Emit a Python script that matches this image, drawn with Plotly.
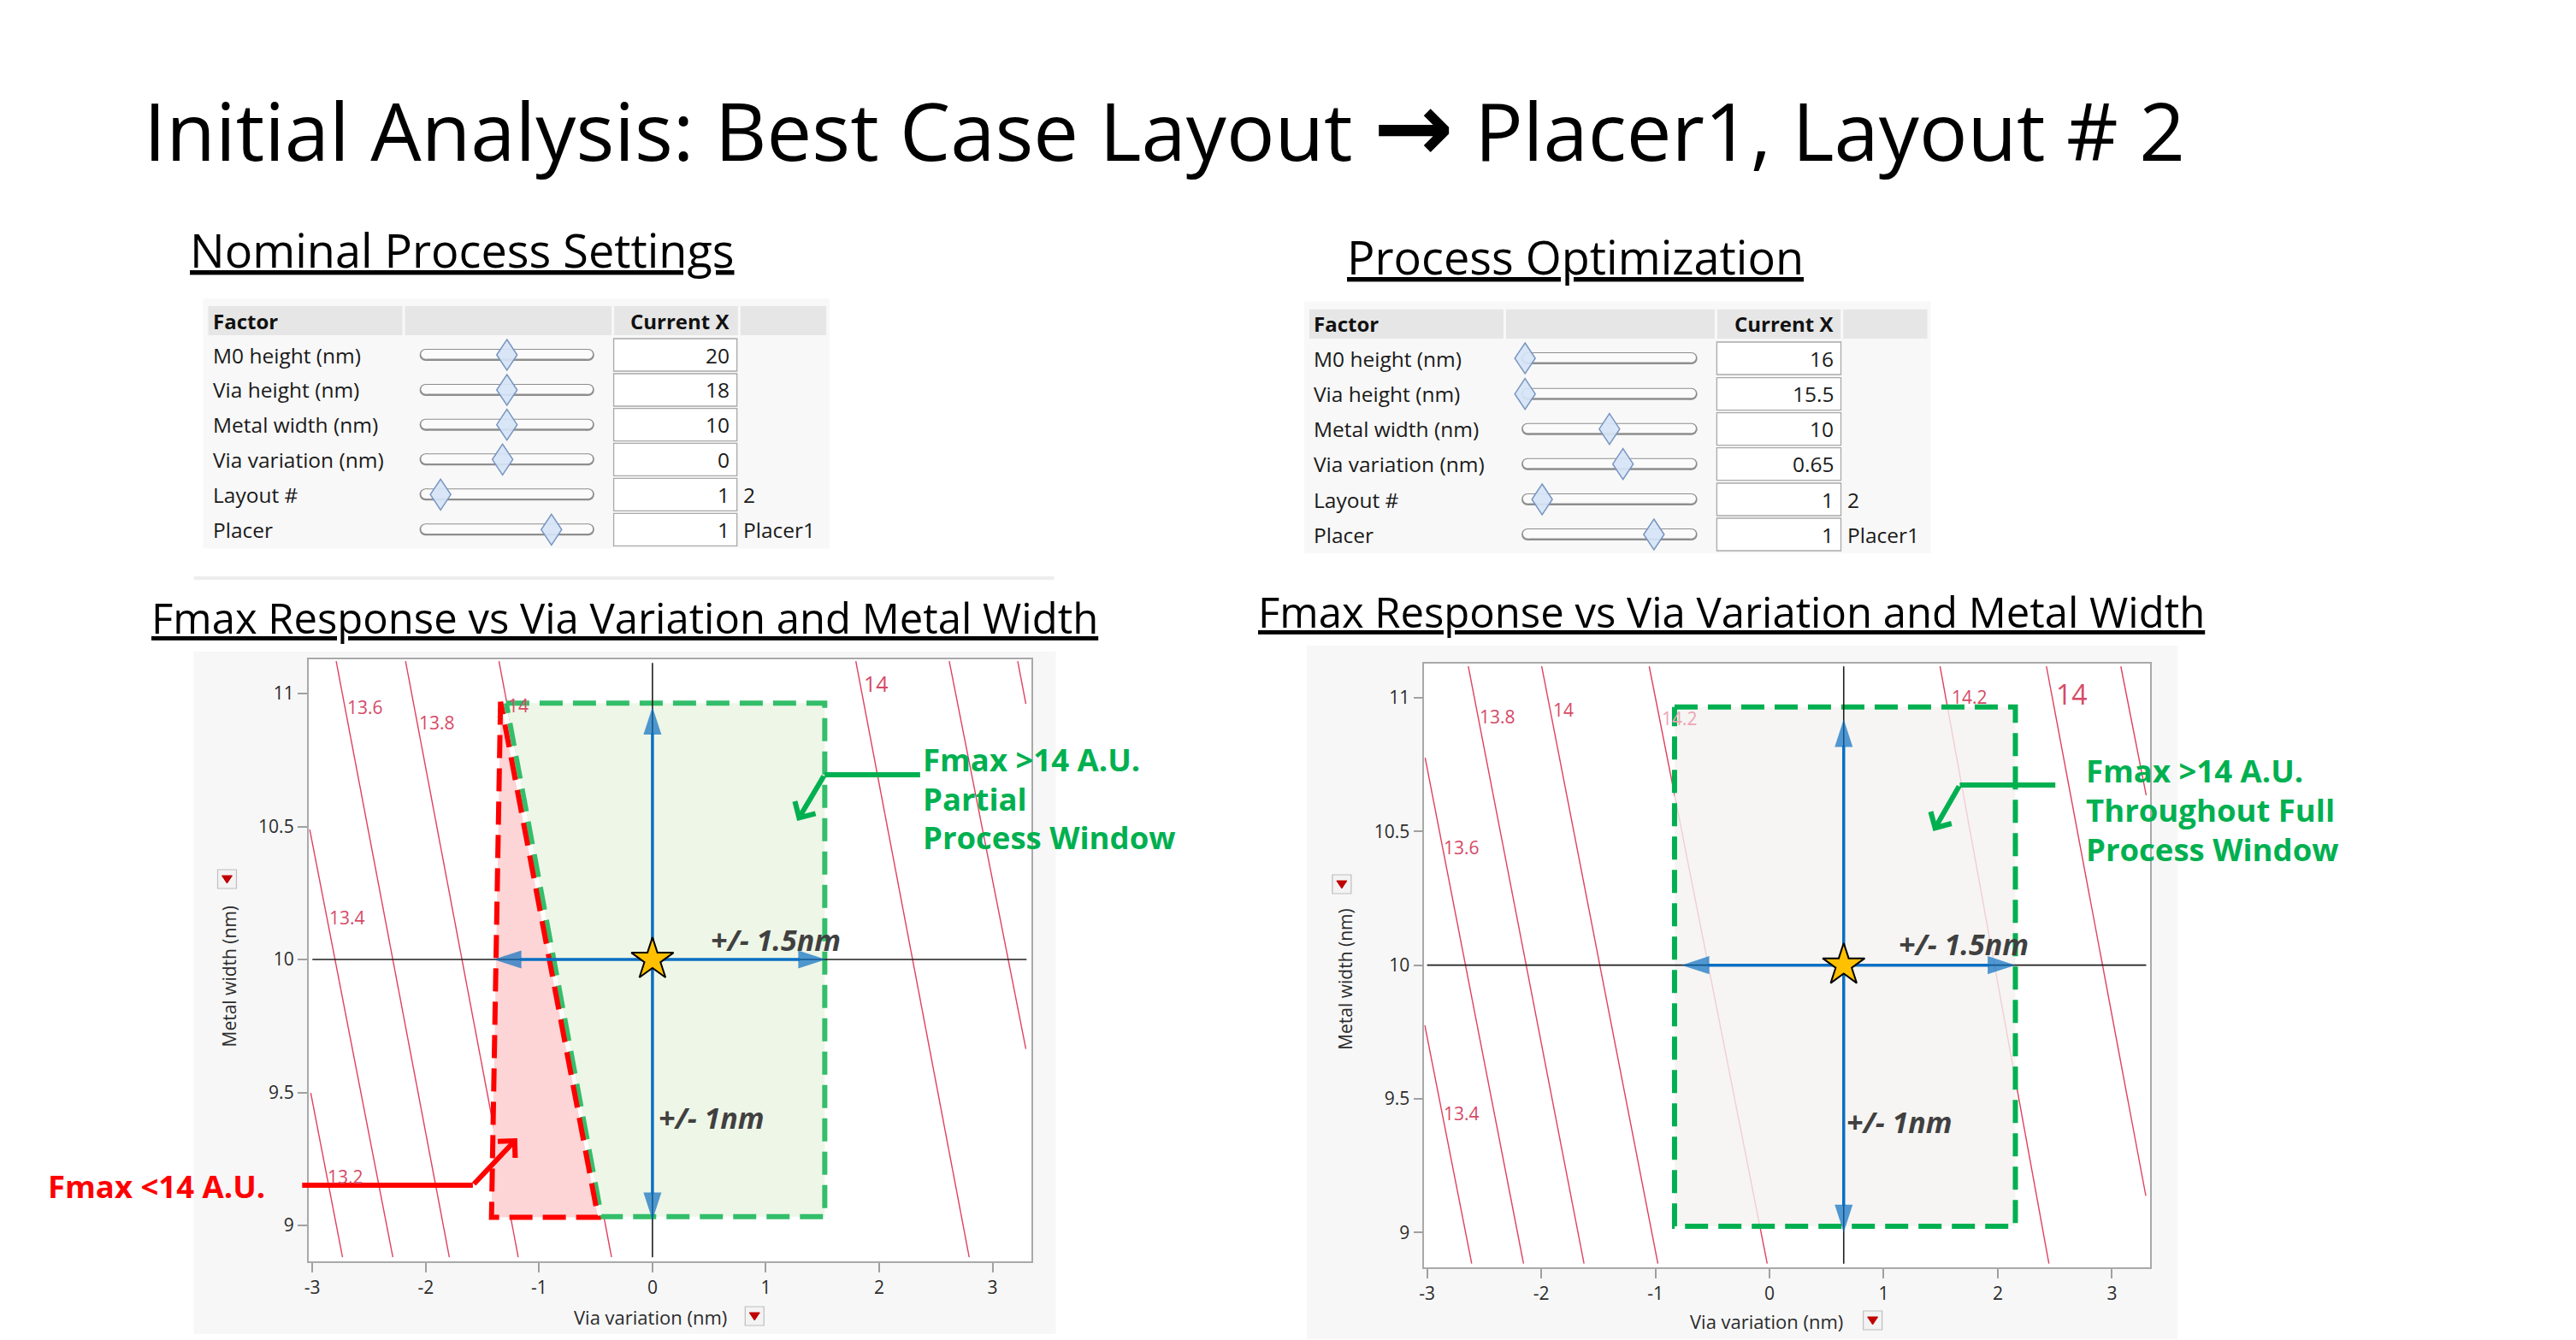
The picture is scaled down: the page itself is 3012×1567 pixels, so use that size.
import plotly.graph_objects as go

W, H = 3012, 1567
FONT = "Open Sans"

# ------------------------------------------------------------------ data
TITLE_LEFT = "Initial Analysis: Best Case Layout"
TITLE_ARROW = "\u2192"
TITLE_RIGHT = "Placer1, Layout # 2"
SUB_NOMINAL = "Nominal Process Settings"
SUB_OPT = "Process Optimization"
SUB_RESP = "Fmax Response vs Via Variation and Metal Width"

FACTORS = ["M0 height (nm)", "Via height (nm)", "Metal width (nm)",
           "Via variation (nm)", "Layout #", "Placer"]
NOM_VALUES = ["20", "18", "10", "0", "1", "1"]
NOM_EXTRA = ["", "", "", "", "2", "Placer1"]
NOM_SLIDER = [0.50, 0.50, 0.50, 0.475, 0.12, 0.755]
OPT_VALUES = ["16", "15.5", "10", "0.65", "1", "1"]
OPT_EXTRA = ["", "", "", "", "2", "Placer1"]
OPT_SLIDER = [0.02, 0.02, 0.50, 0.577, 0.117, 0.753]

X_TICKS = [-3, -2, -1, 0, 1, 2, 3]
Y_TICKS = [9, 9.5, 10, 10.5, 11]
X_TITLE = "Via variation (nm)"
Y_TITLE = "Metal width (nm)"

# left contour plot (nominal) : each contour line as start/end point
L_LEVELS = [13.2, 13.4, 13.6, 13.8, 14.0, 14.0, 13.8, 13.6]
L_X0 = [-3.014, -3.023, -2.79, -2.178, -1.354, 1.794, 2.618, 3.222]
L_Y0 = [9.498, 10.489, 11.122, 11.122, 11.122, 11.122, 11.122, 11.122]
L_X1 = [-2.734, -2.29, -1.792, -1.184, -0.361, 2.794, 3.294, 3.294]
L_Y1 = [8.881, 8.881, 8.881, 8.881, 8.881, 8.881, 9.664, 10.961]
L_LAB_TEXT = ["13.6", "13.8", "14", "14", "13.4", "13.2"]
L_LAB_X = [-2.537, -1.904, -1.184, 1.976, -2.694, -2.706]
L_LAB_Y = [10.95, 10.891, 10.955, 11.038, 10.159, 9.184]
L_LAB_SIZE = [21, 21, 21, 25, 21, 21]
L_LAB_FADED = [False, False, False, False, False, False]

L_CENTER = (0.0, 10.0)
L_FAIL_X = [-1.34, -1.42, -0.48]          # Fmax < 14 region
L_FAIL_Y = [10.97, 9.031, 9.031]
L_WIN_X = [-1.29, 1.52, 1.52, -0.45]      # Fmax > 14 partial window
L_WIN_Y = [10.964, 10.964, 9.033, 9.033]
L_ARROW_X = [-1.40, 1.53]
L_ARROW_Y = [9.02, 10.95]
L_CROSS_X = [-3.0, 3.3]
L_CROSS_Y = [8.88, 11.115]

# right contour plot (optimized)
R_LEVELS = [13.4, 13.6, 13.8, 14.0, 14.2, 14.2, 14.0, 13.8]
R_X0 = [-3.02, -3.017, -2.639, -1.996, -1.054, 1.494, 2.426, 3.078]
R_Y0 = [9.775, 10.776, 11.118, 11.118, 11.118, 11.118, 11.118, 11.118]
R_X1 = [-2.609, -2.155, -1.625, -0.978, -0.020, 2.448, 3.297, 3.30]
R_Y1 = [8.883, 8.883, 8.883, 8.883, 8.883, 8.883, 9.137, 10.636]
R_LAB_TEXT = ["13.8", "14", "14.2", "14.2", "14", "13.6", "13.4"]
R_LAB_X = [-2.384, -1.807, -0.79, 1.754, 2.646, -2.70, -2.694]
R_LAB_Y = [10.929, 10.956, 10.924, 11.003, 11.014, 10.44, 9.446]
R_LAB_SIZE = [21, 21, 21, 21, 32, 21, 21]
R_LAB_FADED = [False, False, True, False, False, False, False]

R_CENTER = (0.65, 10.0)
R_WIN_X = [-0.832, 2.154, 2.154, -0.832]  # full process window
R_WIN_Y = [10.966, 10.966, 9.023, 9.023]
R_ARROW_X = [-0.77, 2.154]
R_ARROW_Y = [9.0, 10.92]
R_CROSS_X = [-3.0, 3.3]
R_CROSS_Y = [8.883, 11.118]

# ------------------------------------------------------------------ helpers
def px(x):
    return x / W


def py(y):
    return 1 - y / H


shapes = []
annotations = []


def rect(x0, y0, x1, y1, fill, line_color=None, line_width=0, layer="below"):
    shapes.append(dict(type="rect", xref="paper", yref="paper",
                       x0=px(x0), x1=px(x1), y0=py(y1), y1=py(y0),
                       fillcolor=fill, layer=layer,
                       line=dict(color=line_color or fill, width=line_width)))


def oval(x0, y0, x1, y1, fill):
    shapes.append(dict(type="circle", xref="paper", yref="paper",
                       x0=px(x0), x1=px(x1), y0=py(y1), y1=py(y0),
                       fillcolor=fill, layer="below", line=dict(width=0)))


def path(points, fill=None, line_color="#000", line_width=1, layer="below", close=False):
    d = "M " + " L ".join(f"{px(a):.6f},{py(b):.6f}" for a, b in points)
    if close:
        d += " Z"
    s = dict(type="path", xref="paper", yref="paper", path=d, layer=layer,
             line=dict(color=line_color, width=line_width))
    if fill:
        s["fillcolor"] = fill
    shapes.append(s)


def note(x, y, s, size, color="#000000", xanchor="left", yanchor="middle",
         family=FONT, angle=0):
    annotations.append(dict(xref="paper", yref="paper", x=px(x), y=py(y), text=s,
                            showarrow=False, xanchor=xanchor, yanchor=yanchor,
                            textangle=angle,
                            font=dict(family=family, size=size, color=color)))


def dropdown(cx, cy):
    rect(cx - 11, cy - 11, cx + 11, cy + 11, "#F3F3F3", "#BEBEBE", 1.2)
    path([(cx - 6, cy - 4), (cx + 6, cy - 4), (cx, cy + 5)], fill="#C00000",
         line_color="#C00000", line_width=1, close=True)


# ------------------------------------------------------------------ slide text
title = (f"{TITLE_LEFT} <span style=\"font-family:'DejaVu Sans';font-weight:bold;"
         f"font-size:112px\">{TITLE_ARROW}</span> {TITLE_RIGHT}")
note(160, 150, title, 94, "#000000")
note(214, 292, f"<u>{SUB_NOMINAL}</u>", 54)
note(1570, 300, f"<u>{SUB_OPT}</u>", 54)
note(169, 722, f"<u>{SUB_RESP}</u>", 49)
note(1466, 715, f"<u>{SUB_RESP}</u>", 49)


# ------------------------------------------------------------------ profiler tables
def draw_table(x0, x1, hdr_top, hdr_bot, seps, rows_y, name_x, trk_x0, trk_x1,
               box_x0, box_x1, val_right, extra_x, values, extras, sliders):
    rect(x0 - 6, hdr_top - 9, x1 + 4, rows_y[-1] + 22, "#F8F8F8")
    rect(x0, hdr_top, x1, hdr_bot, "#E6E6E6")
    for s in seps:
        path([(s, hdr_top), (s, hdr_bot)], line_color="#F8F8F8", line_width=3)
    mid = (hdr_top + hdr_bot) / 2
    note(name_x - 4, mid, "<b>Factor</b>", 24, "#111111")
    note(val_right + 2, mid, "<b>Current X</b>", 24, "#111111", xanchor="right")
    for y, name, val, ext, pos in zip(rows_y, FACTORS, values, extras, sliders):
        note(name_x - 4, y, name, 24.5, "#1A1A1A")
        # slider track (rounded)
        r = 7
        rect(trk_x0 + r, y - r, trk_x1 - r, y + r, "#8E8E8E")
        oval(trk_x0, y - r, trk_x0 + 2 * r, y + r, "#8E8E8E")
        oval(trk_x1 - 2 * r, y - r, trk_x1, y + r, "#8E8E8E")
        ri = 5.3
        rect(trk_x0 + r, y - ri - 0.7, trk_x1 - r, y + ri - 0.7, "#FBFBFB")
        oval(trk_x0 + 1.7, y - ri - 0.7, trk_x0 + 1.7 + 2 * ri, y + ri - 0.7, "#FBFBFB")
        oval(trk_x1 - 1.7 - 2 * ri, y - ri - 0.7, trk_x1 - 1.7, y + ri - 0.7, "#FBFBFB")
        # diamond handle
        cx = trk_x0 + pos * (trk_x1 - trk_x0)
        path([(cx, y - 18), (cx + 12, y), (cx, y + 18), (cx - 12, y)],
             fill="rgba(214,228,246,0.92)", line_color="#7895C0", line_width=1.5,
             close=True)
        # value box
        rect(box_x0, y - 19, box_x1, y + 19, "#FFFFFF", "#A9A9A9", 1.3)
        note(val_right + 2, y, val, 24.5, "#1A1A1A", xanchor="right")
        if ext:
            note(extra_x - 2, y, ext, 24.5, "#1A1A1A")


draw_table(238, 962, 358, 392, [467, 712, 860],
           [415, 456, 496.7, 537.3, 578.3, 619.3], 245, 485.6, 690.2,
           713, 857.4, 849, 864.7, NOM_VALUES, NOM_EXTRA, NOM_SLIDER)
draw_table(1528, 2252, 361.7, 396, [1757, 2004.4, 2152],
           [419, 460.7, 501.7, 542.7, 584, 625], 1535, 1776.6, 1982.6,
           2005.4, 2150.8, 2142.6, 2158.6, OPT_VALUES, OPT_EXTRA, OPT_SLIDER)

# faint separator under the left table
path([(221, 676), (1229, 676)], line_color="#EDEDED", line_width=4)

# ------------------------------------------------------------------ plot panels
L_BOX = (355.3, 771.0, 1202.4, 1475.0)
R_BOX = (1662.6, 775.8, 2512.7, 1482.4)
rect(221, 762, 1231, 1560, "#F7F7F7")
rect(1525, 755, 2545, 1566, "#F7F7F7")
rect(*L_BOX, "#FFFFFF")
rect(*R_BOX, "#FFFFFF")

dropdown(260, 1028)
dropdown(878, 1539)
dropdown(1566, 1034)
dropdown(2188, 1544)
note(263, 1141, Y_TITLE, 21, "#2B2B2B", xanchor="center", angle=-90)
note(756, 1540, X_TITLE, 22, "#2B2B2B", xanchor="center")
note(1570, 1145, Y_TITLE, 21, "#2B2B2B", xanchor="center", angle=-90)
note(2064, 1545, X_TITLE, 22, "#2B2B2B", xanchor="center")

fig = go.Figure()
CONTOUR = "#E0405E"
LABEL = "#D64A66"
FADED = "#ECA5B3"
BLUE = "#0A6FC2"


def add_line(xs, ys, xa, ya, color, width, dash=None):
    fig.add_trace(go.Scatter(x=xs, y=ys, mode="lines", xaxis=xa, yaxis=ya,
                             line=dict(color=color, width=width, dash=dash),
                             hoverinfo="skip", showlegend=False))


def add_contours(x0s, y0s, x1s, y1s, xa, ya):
    for a, b, c, d in zip(x0s, y0s, x1s, y1s):
        add_line([a, c], [b, d], xa, ya, CONTOUR, 1.4)


def add_labels(texts, xs, ys, sizes, faded, xr, yr):
    for t, x, y, s, f in zip(texts, xs, ys, sizes, faded):
        annotations.append(dict(xref=xr, yref=yr, x=x, y=y, text=t, showarrow=False,
                                xanchor="center", yanchor="middle",
                                font=dict(family=FONT, size=s,
                                          color=FADED if f else LABEL)))


def add_fill(xs, ys, xa, ya, color):
    fig.add_trace(go.Scatter(x=xs, y=ys, mode="lines", fill="toself", fillcolor=color,
                             line=dict(width=0, color=color), xaxis=xa, yaxis=ya,
                             hoverinfo="skip", showlegend=False))


def add_outline(xs, ys, xa, ya, color):
    add_line(list(xs) + [xs[0]], list(ys) + [ys[0]], xa, ya, color, 6, "27px,12px")


def add_crosshair(center, cross_x, cross_y, xa, ya):
    add_line(cross_x, [center[1], center[1]], xa, ya, "#1E1E1E", 1.6)
    add_line([center[0], center[0]], cross_y, xa, ya, "#1E1E1E", 1.6)


def add_arrows(center, ax_x, ax_y, xa, ya):
    cx, cy = center
    ends = [([cx, ax_x[0]], [cy, cy]), ([cx, ax_x[1]], [cy, cy]),
            ([cx, cx], [cy, ax_y[0]]), ([cx, cx], [cy, ax_y[1]])]
    for xs, ys in ends:
        fig.add_trace(go.Scatter(x=xs, y=ys, mode="lines+markers", xaxis=xa, yaxis=ya,
                                 line=dict(color=BLUE, width=3.5),
                                 marker=dict(symbol="arrow", size=[0, 34],
                                             angleref="previous", color=BLUE,
                                             line=dict(width=0)),
                                 hoverinfo="skip", showlegend=False))
    fig.add_trace(go.Scatter(x=[cx], y=[cy], mode="markers", xaxis=xa, yaxis=ya,
                             marker=dict(symbol="star", size=37, color="#FFC000",
                                         line=dict(color="#000000", width=2)),
                             hoverinfo="skip", showlegend=False))


def add_text(x, y, s, xr, yr):
    annotations.append(dict(xref=xr, yref=yr, x=x, y=y, text=f"<b><i>{s}</i></b>",
                            showarrow=False, xanchor="left", yanchor="middle",
                            font=dict(family=FONT, size=34, color="#404040")))


# left plot
add_contours(L_X0, L_Y0, L_X1, L_Y1, "x", "y")
add_fill(L_WIN_X, L_WIN_Y, "x", "y", "#EEF6E7")
add_fill(L_FAIL_X, L_FAIL_Y, "x", "y", "#FDD5D6")
add_outline(L_WIN_X, L_WIN_Y, "x", "y", "#33BE6A")
add_outline(L_FAIL_X, L_FAIL_Y, "x", "y", "#FF0000")
add_crosshair(L_CENTER, L_CROSS_X, L_CROSS_Y, "x", "y")
add_arrows(L_CENTER, L_ARROW_X, L_ARROW_Y, "x", "y")
add_labels(L_LAB_TEXT, L_LAB_X, L_LAB_Y, L_LAB_SIZE, L_LAB_FADED, "x", "y")
add_text(L_CENTER[0] + 0.50, 10.075, "+/- 1.5nm", "x", "y")
add_text(L_CENTER[0] + 0.04, 9.406, "+/- 1nm", "x", "y")

# right plot
add_contours(R_X0, R_Y0, R_X1, R_Y1, "x2", "y2")
add_fill(R_WIN_X, R_WIN_Y, "x2", "y2", "rgba(244,242,240,0.80)")
add_outline(R_WIN_X, R_WIN_Y, "x2", "y2", "#00B050")
add_crosshair(R_CENTER, R_CROSS_X, R_CROSS_Y, "x2", "y2")
add_arrows(R_CENTER, R_ARROW_X, R_ARROW_Y, "x2", "y2")
add_labels(R_LAB_TEXT, R_LAB_X, R_LAB_Y, R_LAB_SIZE, R_LAB_FADED, "x2", "y2")
add_text(R_CENTER[0] + 0.47, 10.08, "+/- 1.5nm", "x2", "y2")
add_text(R_CENTER[0] + 0.01, 9.414, "+/- 1nm", "x2", "y2")

# ------------------------------------------------------------------ callouts
GREEN = "#00B050"
RED = "#FF0000"
for i, line in enumerate(["Fmax >14 A.U.", "Partial", "Process Window"]):
    note(1073, 888 + 45.5 * i, f"<b>{line}</b>", 36.5, GREEN)
for i, line in enumerate(["Fmax >14 A.U.", "Throughout Full", "Process Window"]):
    note(2436, 901 + 46 * i, f"<b>{line}</b>", 36.5, GREEN)
note(48, 1387, "<b>Fmax <14 A.U.</b>", 36.5, RED)


def elbow(p0, p1, tip, color):
    path([p0, p1], line_color=color, line_width=6, layer="above")
    annotations.append(dict(xref="paper", yref="paper", x=px(tip[0]), y=py(tip[1]),
                            ax=p1[0] - tip[0], ay=p1[1] - tip[1], text="",
                            showarrow=True, arrowhead=4, arrowsize=0.9,
                            arrowwidth=6, arrowcolor=color, standoff=0))


elbow((1072, 906), (960, 906), (928, 960), GREEN)
elbow((2402, 918), (2290, 918), (2259, 972), GREEN)
elbow((348, 1386), (548, 1386), (600, 1331), RED)


# ------------------------------------------------------------------ layout
def axis(x0, x1, rng, ticks, anchor, horizontal=True):
    d = dict(domain=[px(x0), px(x1)] if horizontal else [py(x1), py(x0)],
             range=rng, tickmode="array", tickvals=ticks,
             ticktext=[f"{t:g}" for t in ticks], showgrid=False, zeroline=False,
             showline=True, mirror=True, linecolor="#A9A9A9", linewidth=1.5,
             ticks="outside", ticklen=11, tickwidth=1.5, tickcolor="#A0A0A0",
             tickfont=dict(family=FONT, size=21, color="#2B2B2B"),
             anchor=anchor, fixedrange=True)
    return d


fig.update_layout(
    width=W, height=H, margin=dict(l=0, r=0, t=0, b=0),
    paper_bgcolor="#FFFFFF", plot_bgcolor="rgba(0,0,0,0)", showlegend=False,
    xaxis=axis(L_BOX[0], L_BOX[2], [-3.035, 3.343], X_TICKS, "y"),
    yaxis=axis(L_BOX[1], L_BOX[3], [8.865, 11.129], Y_TICKS, "x", horizontal=False),
    xaxis2=axis(R_BOX[0], R_BOX[2], [-3.025, 3.332], X_TICKS, "y2"),
    yaxis2=axis(R_BOX[1], R_BOX[3], [8.868, 11.129], Y_TICKS, "x2", horizontal=False),
    shapes=shapes, annotations=annotations,
)

fig.write_html("out.html", config={"displayModeBar": False},
               post_script="document.body.style.margin='0';"
                           "document.body.style.overflow='hidden';")
